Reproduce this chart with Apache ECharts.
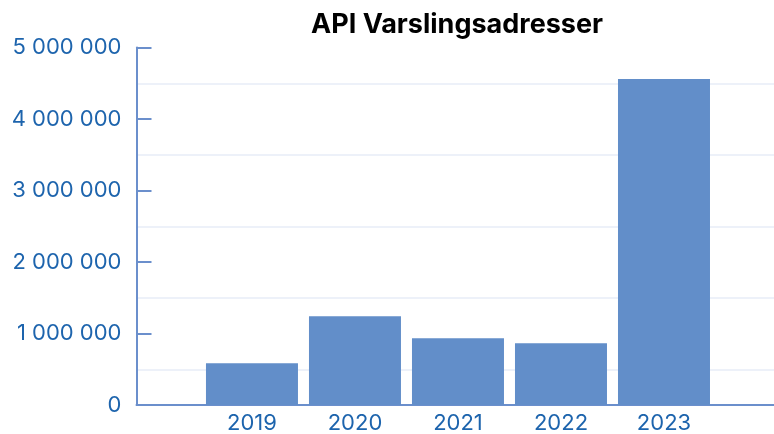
<!DOCTYPE html>
<html>
<head>
<meta charset="utf-8">
<script src="https://cdn.jsdelivr.net/npm/echarts@6/dist/echarts.min.js"></script>
<style>html,body{margin:0;padding:0;background:#fff}#c{width:774px;height:434px}</style>
</head>
<body>
<div id="c"></div>
<script>
const title = 'API Varslingsadresser';
const years = [2019, 2020, 2021, 2022, 2023];
const values = [585000, 1240000, 935000, 865000, 4560000];

const axisColor = '#6b8fcc';
const labelColor = '#1d64ad';
const fmt = v => String(v).replace(/\B(?=(\d{3})+(?!\d))/g, ' ');

const chart = echarts.init(document.getElementById('c'), null, {renderer: 'canvas'});
chart.setOption({
  animation: false,
  title: {
    text: title,
    left: 306, top: 6,
    textStyle: {fontFamily: 'Inter', fontWeight: 'bold', fontSize: 27, color: '#000'}
  },
  grid: {left: 136.5, right: 0, top: 47.5, bottom: 28},
  xAxis: {
    type: 'value',
    min: 2017.879, max: 2024.068,
    axisLine: {show: true, onZero: false, lineStyle: {color: axisColor, width: 2}},
    axisTick: {show: false},
    splitLine: {show: false},
    axisLabel: {
      customValues: years,
      formatter: v => String(v),
      color: labelColor, fontFamily: 'Inter', fontSize: 22, margin: 7
    }
  },
  yAxis: {
    type: 'value',
    min: 0, max: 5000000, interval: 1000000,
    axisLine: {show: true, lineStyle: {color: axisColor, width: 2}},
    axisTick: {show: true, inside: true, length: 15, lineStyle: {color: axisColor, width: 2}},
    splitLine: {show: false},
    minorTick: {show: false, splitNumber: 2},
    minorSplitLine: {show: true, lineStyle: {color: '#edf1f9', width: 2}},
    axisLabel: {formatter: fmt, color: labelColor, fontFamily: 'Inter', fontSize: 22, margin: 15}
  },
  series: [{
    type: 'bar',
    barWidth: 92,
    itemStyle: {color: '#628ec9'},
    data: years.map((y, i) => [y, values[i]])
  }]
});
</script>
</body>
</html>
